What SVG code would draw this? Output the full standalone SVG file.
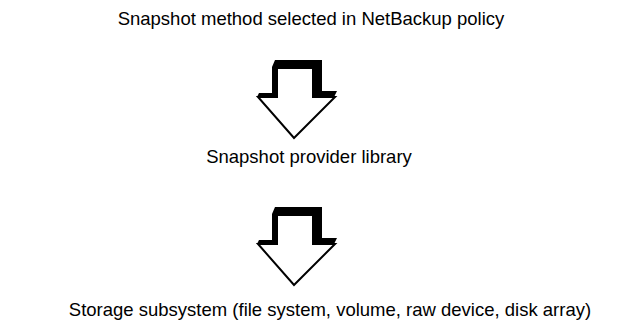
<svg xmlns="http://www.w3.org/2000/svg" xmlns:xlink="http://www.w3.org/1999/xlink" width="619" height="331" viewBox="0 0 619 331">
<style>
.lbl{font-family:"Liberation Sans",Arial,sans-serif;font-size:18.5px;fill:#000;text-anchor:middle}
.ext{fill:#000}
.body{fill:#fff;stroke:#000;stroke-width:2;stroke-linejoin:miter}
</style>
<defs>
<g id="bigArrow">
<polygon class="ext" points="275,60 322,60 322,91 337,91 334,97 257,97 259,93 272,93 272,67"/>
<polygon class="body" points="277,68 313,68 313,97 335,97 294,138 258,97 277,97"/>
</g>
</defs>
<rect width="619" height="331" fill="#fff"/>
<g id="connectors">
<use id="arrow1" xlink:href="#bigArrow"/>
<use id="arrow2" xlink:href="#bigArrow" transform="translate(0,147)"/>
</g>
<g id="node-policy"><text class="lbl" x="311" y="25">Snapshot method selected in NetBackup policy</text></g>
<g id="node-provider"><text class="lbl" x="309" y="163">Snapshot provider library</text></g>
<g id="node-storage"><text class="lbl" x="330" y="316">Storage subsystem (file system, volume, raw device, disk array)</text></g>
</svg>
